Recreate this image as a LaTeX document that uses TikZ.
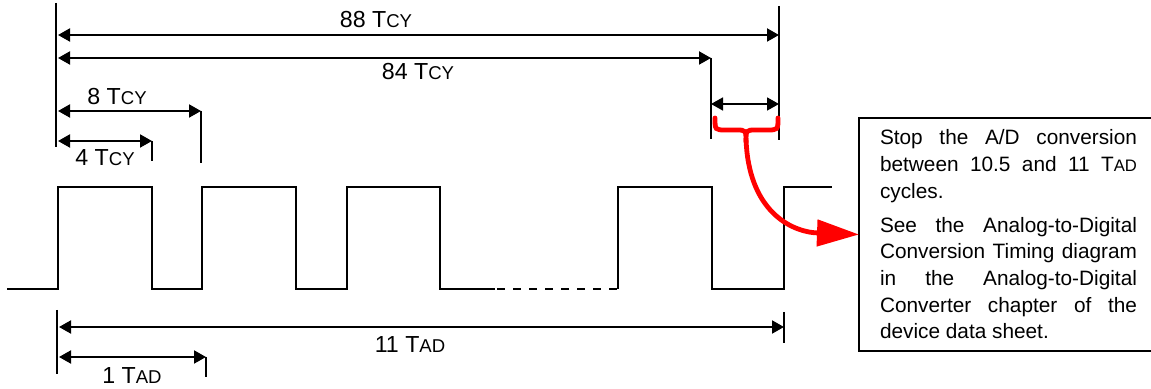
\documentclass[tikz,border=0pt]{standalone}
\usepackage{fontspec}
\setmainfont{Liberation Sans}
\usepackage{graphicx}
\usetikzlibrary{arrows.meta}
\definecolor{notered}{HTML}{FF0000}
\newcommand{\Tsub}[1]{T\scalebox{0.8}{#1}}

\begin{document}
\begin{tikzpicture}[x=0.5pt,y=-0.5pt,line width=1pt,
  span/.style={{Triangle[length=6pt,width=6.5pt]}-{Triangle[length=6pt,width=6.5pt]}},
  lbl/.style={font=\fontsize{11.6}{13}\selectfont,inner sep=0pt}]
  \useasboundingbox (0,0) rectangle (1151,389);
  % marker lines
  \draw (56,3)--(56,147);
  \draw (779,6)--(779,140);
  \draw (711,58)--(711,139);
  \draw (201,111)--(201,163);
  \draw (152,141)--(152,161);
  \draw (57,310)--(57,374);
  \draw (784,312)--(784,343);
  \draw (206,357)--(206,377);
  % instruction cycles
  \draw[span] (58,35)--(779,35);
  \draw[span] (58,58)--(711,58);
  \draw[span] (58,111)--(201,111);
  \draw[span] (58,141)--(152,141);
  \draw[span,line width=.85pt] (711,104)--(779,104);
  \node[lbl] (t88) at (376,20) {88 \Tsub{CY}};
  \node[lbl] (t84) at (418,72) {84 \Tsub{CY}};
  \node[lbl] (t8) at (117,97) {8 \Tsub{CY}};
  \node[lbl] (t4) at (105,158) {4 \Tsub{CY}};
  % A/D clock
  \draw (7,289)--(58,289)--(58,187)--(152,187)--(152,289)--(202,289)--(202,187)
    --(296,187)--(296,289)--(347,289)--(347,187)--(440,187)--(440,289)--(495,289);
  \draw[dash pattern=on 4pt off 4pt] (497,289)--(618,289);
  \draw (618,289)--(618,187)--(712,187)--(712,289)--(784,289)--(784,187)--(832,187);
  \draw[span] (59,327)--(784,327);
  \draw[span] (59,357)--(206,357);
  \node[lbl] (t11) at (410,345) {11 \Tsub{AD}};
  \node[lbl] (t1) at (132,376) {1 \Tsub{AD}};
  % note, its right side runs off the page
  \node[anchor=north west,text width=128.5pt,inner xsep=10pt,inner ysep=0pt,
    minimum height=115.5pt,align=justify,font=\fontsize{10.4}{13.35}\selectfont]
    (note) at (859,118) {\hyphenpenalty=10000\exhyphenpenalty=10000
    Stop the A/D conversion between 10.5 and 11 \Tsub{AD} cycles.\par\vspace{3.6pt}
    See the Analog-to-Digital Conversion Timing diagram in the Analog-to-Digital
    Converter chapter of the device data sheet.};
  \draw ([xshift=20pt]note.north east) -- (note.north west) -- (note.south west)
    -- ([xshift=20pt]note.south east);
  % brace and pointer
  \draw[notered,line width=2.4pt,line cap=round]
    (715,118) .. controls (715,130) .. (726,130) -- (736,130) .. controls (746,130) .. (746,142)
    (778,118) .. controls (778,130) .. (767,130) -- (756,130) .. controls (746,130) .. (746,142);
  \draw[notered,line width=2.4pt,-{Triangle[length=21pt,width=13pt]}]
    (746,138) .. controls (748,210) and (790,232) .. (note.west);
\end{tikzpicture}
\end{document}
